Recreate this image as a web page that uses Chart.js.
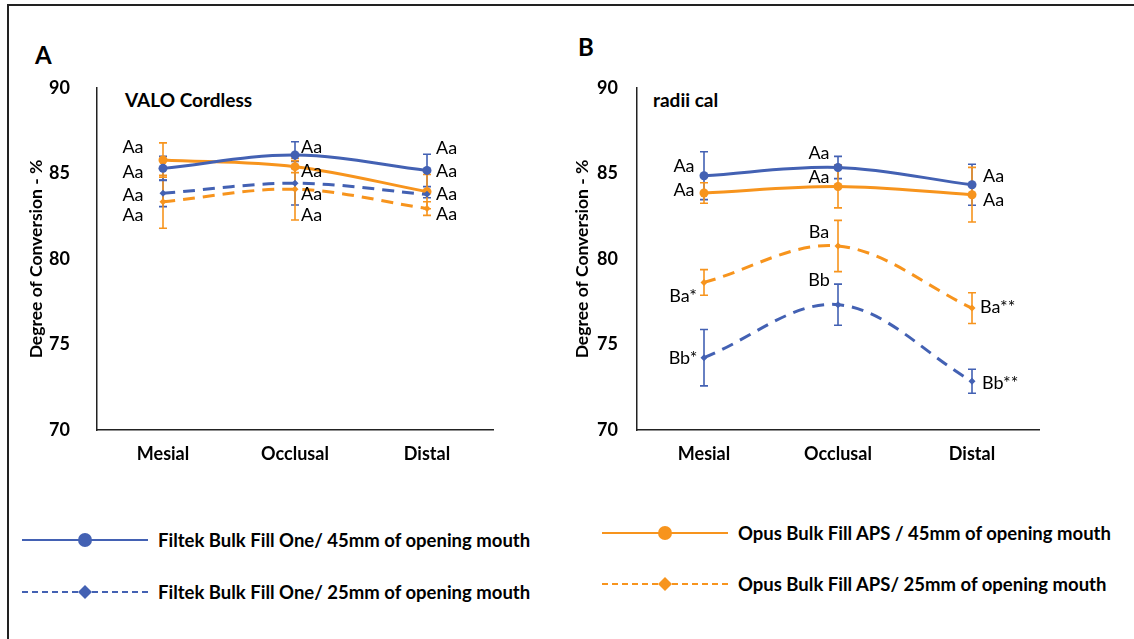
<!DOCTYPE html>
<html>
<head>
<meta charset="utf-8">
<script src="https://cdn.jsdelivr.net/npm/chart.js@4"></script>
<style>
  body { margin: 0; width: 1134px; height: 639px; background: #fff; position: relative; overflow: hidden; font-family: Lato, "Open Sans", sans-serif; }
  .frame { position: absolute; left: 7px; top: 4px; right: -10px; bottom: -10px; border-top: 2px solid #222; border-left: 2px solid #222; }
  .box { position: absolute; top: 0; height: 480px; }
  .txt { position: absolute; font-weight: bold; color: #000; white-space: nowrap; line-height: 1; }
  .leg { position: absolute; display: flex; align-items: center; height: 20px; }
  .leg span { font-weight: bold; font-size: 18.5px; color: #000; margin-left: 10px; white-space: nowrap; }
</style>
</head>
<body>
<div class="frame"></div>
<div class="txt" style="left:35px; top:43px; font-size:24px;">A</div>
<div class="txt" style="left:578px; top:35px; font-size:24px;">B</div>
<div class="txt" style="left:125px; top:90px; font-size:19px;">VALO Cordless</div>
<div class="txt" style="left:653px; top:90px; font-size:19px;">radii cal</div>
<div class="box" style="left:0; width:560px;"><canvas id="chartA"></canvas></div>
<div class="box" style="left:540px; width:594px;"><canvas id="chartB"></canvas></div>
<div id="legend"></div>
<script>
const categories = ['Mesial', 'Occlusal', 'Distal'];
const seriesNames = [
  'Filtek Bulk Fill One/ 45mm of opening mouth',
  'Filtek Bulk Fill One/ 25mm of opening mouth',
  'Opus Bulk Fill APS / 45mm of opening mouth',
  'Opus Bulk Fill APS/ 25mm of opening mouth'
];

// A - VALO Cordless
const valoFiltek45 = [85.3, 86.08, 85.18];
const valoFiltek45Err = [0.7, 0.78, 0.95];
const valoFiltek25 = [83.84, 84.43, 83.78];
const valoFiltek25Err = [0.78, 1.27, 0.2];
const valoOpus45 = [85.79, 85.4, 83.94];
const valoOpus45Err = [1.0, 0.35, 1.0];
const valoOpus25 = [83.35, 84.08, 82.95];
const valoOpus25Err = [1.55, 1.8, 0.4];
const valoFiltek45Marks = ['Aa', 'Aa', 'Aa'];
const valoFiltek25Marks = ['Aa', 'Aa', 'Aa'];
const valoOpus45Marks = ['Aa', 'Aa', 'Aa'];
const valoOpus25Marks = ['Aa', 'Aa', 'Aa'];

// B - radii cal
const radiiFiltek45 = [84.87, 85.35, 84.34];
const radiiFiltek45Err = [1.4, 0.65, 1.2];
const radiiFiltek25 = [74.23, 77.33, 72.85];
const radiiFiltek25Err = [1.65, 1.2, 0.7];
const radiiOpus45 = [83.86, 84.24, 83.76];
const radiiOpus45Err = [0.6, 1.25, 1.6];
const radiiOpus25 = [78.63, 80.76, 77.13];
const radiiOpus25Err = [0.75, 1.5, 0.9];
const radiiFiltek45Marks = ['Aa', 'Aa', 'Aa'];
const radiiFiltek25Marks = ['Bb*', 'Bb', 'Bb**'];
const radiiOpus45Marks = ['Aa', 'Aa', 'Aa'];
const radiiOpus25Marks = ['Ba*', 'Ba', 'Ba**'];

const yMin = 70, yMax = 90, yStep = 5;

const BLUE = '#4361b3';
const ORANGE = '#f7941d';

// label offsets from the point: [dx, dy, align]
const markPosA = {
  f45: [[-30, 4, 'center'], [6, -8, 'left'], [9, -22, 'left']],
  f25: [[-30, 2, 'center'], [6, 11, 'left'], [9, 0, 'left']],
  o45: [[-30, -13, 'center'], [6, 5, 'left'], [9, -20, 'left']],
  o25: [[-30, 13, 'center'], [6, 26, 'left'], [9, 6, 'left']]
};
const markPosB = {
  f45: [[-20, -10, 'center'], [-19, -14, 'center'], [11, -9, 'left']],
  f25: [[-21, 1, 'center'], [-19, -24, 'center'], [10, 2, 'left']],
  o45: [[-20, -3, 'center'], [-19, -9, 'center'], [11, 5, 'left']],
  o25: [[-21, 14, 'center'], [-19, -14, 'center'], [8, -1, 'left']]
};

function series(label, data, errors, marks, pos, color, dashed) {
  return {
    label, data, errors, marks, markPos: pos,
    borderColor: color, backgroundColor: color,
    borderWidth: 3, borderDash: dashed ? [12, 8] : [],
    pointStyle: dashed ? 'rectRot' : 'circle',
    pointRadius: dashed ? 3.5 : 4.5,
    pointBorderWidth: 0,
    tension: 0.35, fill: false
  };
}

const errorBars = {
  id: 'errorBars',
  beforeDatasetsDraw(chart) {
    const {ctx, scales: {y}} = chart;
    chart.data.datasets.forEach((ds, i) => {
      chart.getDatasetMeta(i).data.forEach((pt, j) => {
        const top = y.getPixelForValue(ds.data[j] + ds.errors[j]);
        const bot = y.getPixelForValue(ds.data[j] - ds.errors[j]);
        ctx.save();
        ctx.strokeStyle = ds.borderColor;
        ctx.lineWidth = 1.6;
        ctx.beginPath();
        ctx.moveTo(pt.x, top); ctx.lineTo(pt.x, bot);
        ctx.moveTo(pt.x - 4, top); ctx.lineTo(pt.x + 4, top);
        ctx.moveTo(pt.x - 4, bot); ctx.lineTo(pt.x + 4, bot);
        ctx.stroke();
        ctx.restore();
      });
    });
  }
};

const pointMarks = {
  id: 'pointMarks',
  afterDatasetsDraw(chart) {
    const ctx = chart.ctx;
    ctx.save();
    ctx.font = '18px Lato';
    ctx.fillStyle = '#000';
    ctx.textBaseline = 'middle';
    chart.data.datasets.forEach((ds, i) => {
      chart.getDatasetMeta(i).data.forEach((pt, j) => {
        const [dx, dy, align] = ds.markPos[j];
        ctx.textAlign = align;
        ctx.fillText(ds.marks[j], pt.x + dx, pt.y + dy);
      });
    });
    ctx.restore();
  }
};

function makeChart(id, datasets, padRight, tickPad, titlePad) {
  return new Chart(document.getElementById(id), {
    type: 'line',
    data: { labels: categories, datasets },
    plugins: [errorBars, pointMarks],
    options: {
      responsive: true,
      maintainAspectRatio: false,
      animation: false,
      layout: { padding: { top: 88, right: padRight, left: 0, bottom: 0 } },
      plugins: { legend: { display: false }, tooltip: { enabled: false } },
      scales: {
        x: {
          offset: true,
          grid: { display: false, drawTicks: false, offset: true },
          border: { color: '#222', width: 1.5 },
          ticks: { color: '#000', font: { family: 'Lato', size: 18, weight: 'bold' }, padding: 13 },
          afterFit: s => { s.height = 50; }
        },
        y: {
          min: yMin, max: yMax,
          grid: { display: false, drawTicks: false },
          border: { color: '#222', width: 1.5 },
          ticks: { stepSize: yStep, color: '#000', font: { family: 'Lato', size: 18, weight: 'bold' }, padding: tickPad },
          title: {
            display: true, text: 'Degree of Conversion - %', color: '#000',
            font: { family: 'Lato', size: 17.5, weight: 'bold' },
            padding: { top: titlePad, bottom: 0 }
          },
          afterFit: s => { s.width = 97; }
        }
      }
    }
  });
}

makeChart('chartA', [
  series(seriesNames[1], valoFiltek25, valoFiltek25Err, valoFiltek25Marks, markPosA.f25, BLUE, true),
  series(seriesNames[3], valoOpus25, valoOpus25Err, valoOpus25Marks, markPosA.o25, ORANGE, true),
  series(seriesNames[0], valoFiltek45, valoFiltek45Err, valoFiltek45Marks, markPosA.f45, BLUE, false),
  series(seriesNames[2], valoOpus45, valoOpus45Err, valoOpus45Marks, markPosA.o45, ORANGE, false)
], 67, 27, 26);

makeChart('chartB', [
  series(seriesNames[1], radiiFiltek25, radiiFiltek25Err, radiiFiltek25Marks, markPosB.f25, BLUE, true),
  series(seriesNames[3], radiiOpus25, radiiOpus25Err, radiiOpus25Marks, markPosB.o25, ORANGE, true),
  series(seriesNames[0], radiiFiltek45, radiiFiltek45Err, radiiFiltek45Marks, markPosB.f45, BLUE, false),
  series(seriesNames[2], radiiOpus45, radiiOpus45Err, radiiOpus45Marks, markPosB.o45, ORANGE, false)
], 95, 19, 32);

// legend below both panels
const legendSpots = [[22, 530], [22, 582], [602, 523], [602, 574]];
const legendColors = [BLUE, BLUE, ORANGE, ORANGE];
const legendEl = document.getElementById('legend');
seriesNames.forEach((name, i) => {
  const dashed = i % 2 === 1;
  const c = legendColors[i];
  const marker = dashed
    ? `<polygon points="63,3 70,10 63,17 56,10" fill="${c}"/>`
    : `<circle cx="63" cy="10" r="7" fill="${c}"/>`;
  const div = document.createElement('div');
  div.className = 'leg';
  div.style.left = legendSpots[i][0] + 'px';
  div.style.top = legendSpots[i][1] + 'px';
  div.innerHTML = `<svg width="126" height="20"><line x1="0" y1="10" x2="126" y2="10" stroke="${c}" stroke-width="2" ${dashed ? 'stroke-dasharray="6 4"' : ''}/>${marker}</svg><span>${name}</span>`;
  legendEl.appendChild(div);
});
</script>
</body>
</html>
